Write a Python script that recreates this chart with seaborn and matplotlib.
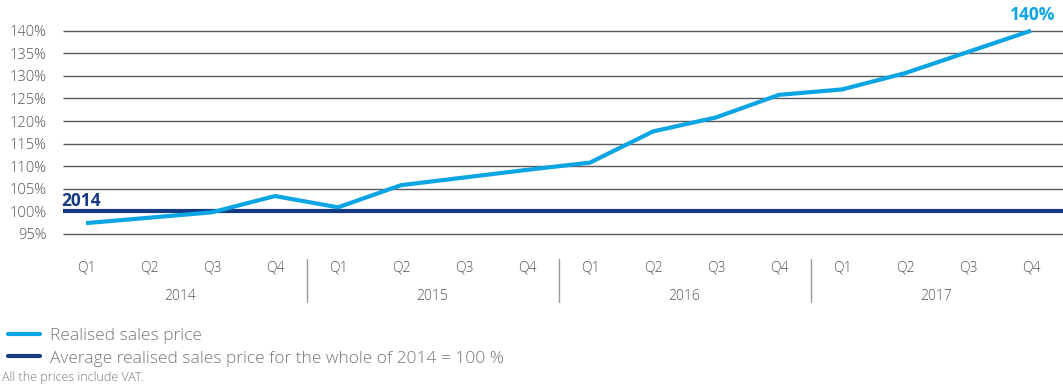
import matplotlib
matplotlib.use("Agg")
import matplotlib.pyplot as plt
import matplotlib.transforms as mtransforms
from matplotlib.lines import Line2D
import seaborn as sns
import pandas as pd

# Quarterly index of realised sales prices (average of 2014 = 100 %)
years = ["2014", "2015", "2016", "2017"]
quarters = ["Q1", "Q2", "Q3", "Q4"]
price_index = [97.4, 98.6, 99.8, 103.4,
               100.9, 105.8, 107.5, 109.2,
               110.8, 117.7, 120.8, 125.8,
               127.0, 130.6, 135.3, 140.0]
baseline = 100.0
y_ticks = [95, 100, 105, 110, 115, 120, 125, 130, 135, 140]

LIGHT_BLUE = "#0AA5E2"
NAVY = "#163A82"
GRID = "#5a5a5f"
TEXT = "#555555"
LEGEND_TEXT = "#777777"

sns.set_style("white")
plt.rcParams["font.family"] = ["Open Sans", "DejaVu Sans"]
plt.rcParams["font.weight"] = 300
plt.rcParams["font.stretch"] = "normal"

df = pd.DataFrame({
    "idx": range(len(price_index)),
    "quarter": quarters * len(years),
    "year": [y for y in years for _ in quarters],
    "price": price_index,
})

W, H = 1063, 385
fig = plt.figure(figsize=(W / 100, H / 100), dpi=100)

# axes geometry in pixels
px_left, px_right = 63, 1063
px_top, px_bottom = 26.2, 238.5
ax = fig.add_axes([px_left / W, 1 - px_bottom / H,
                   (px_right - px_left) / W, (px_bottom - px_top) / H])

x_first, x_step = 86, 63.0
ax.set_xlim((px_left - x_first) / x_step, (px_right - x_first) / x_step)
ax.set_ylim(94, 141)

# horizontal grid
for v in y_ticks:
    ax.axhline(v, color=GRID, lw=1.0, zorder=1)

# 2014 average baseline
ax.axhline(baseline, color=NAVY, lw=3.0, zorder=2)

sns.lineplot(data=df, x="idx", y="price", ax=ax, color=LIGHT_BLUE,
             lw=3.0, zorder=3, legend=False)
for line in ax.lines:
    line.set_solid_capstyle("butt")

for s in ax.spines.values():
    s.set_visible(False)

ax.set_xlabel("")
ax.set_ylabel("")
ax.set_yticks(y_ticks)
ax.set_yticklabels([f"{v}%" for v in y_ticks], color=TEXT, fontsize=10.5)
ax.set_xticks(list(df["idx"]))
ax.set_xticklabels(df["quarter"], color=TEXT, fontsize=10)
ax.tick_params(axis="y", length=0, pad=12)
ax.tick_params(axis="x", length=0, pad=16)

# year labels and separators below the quarter ticks
blend = mtransforms.blended_transform_factory(ax.transData, fig.transFigure)
for k, yr in enumerate(years):
    ax.text(4 * k + 1.5, 1 - 297 / H, yr, transform=blend, ha="center",
            va="center", color=TEXT, fontsize=10)
    if k > 0:
        ax.add_line(Line2D([4 * k - 0.5] * 2, [1 - 259 / H, 1 - 302 / H],
                           transform=blend, color="#9a9a9a", lw=1.0,
                           clip_on=False))

# annotations
ax.text((px_left - x_first) / x_step - 0.02, baseline + 0.3, "2014",
        color=NAVY, fontsize=12.5, fontweight="bold", ha="left",
        va="bottom")
ax.annotate(f"{price_index[-1]:.0f}%", (df["idx"].iloc[-1], price_index[-1]),
            xytext=(1, 5), textcoords="offset points", ha="center",
            va="bottom", color=LIGHT_BLUE, fontsize=12.5, fontweight="bold",
            annotation_clip=False)

# legend
handles = [Line2D([], [], color=LIGHT_BLUE, lw=3.0),
           Line2D([], [], color=NAVY, lw=3.0)]
labels = ["Realised sales price",
          "Average realised sales price for the whole of 2014 = 100 %"]
fig.legend(handles, labels, loc="upper left",
           bbox_to_anchor=(8 / W, 1 - 328 / H), frameon=False,
           fontsize=12.5, labelcolor=LEGEND_TEXT, handlelength=1.84,
           handletextpad=0.57, labelspacing=0.36, borderaxespad=0,
           borderpad=0)

fig.text(2 / W, 1 - 378 / H, "All the prices include VAT.",
         color=LEGEND_TEXT, fontsize=9, ha="left", va="center")

fig.savefig("out.png", dpi=100)
